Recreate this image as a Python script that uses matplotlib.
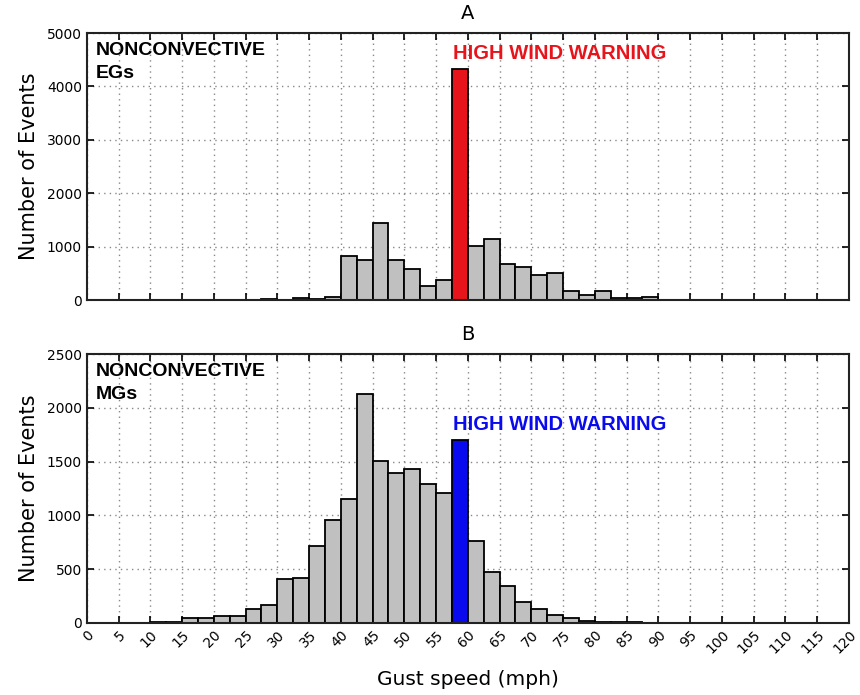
import numpy as np
import matplotlib

matplotlib.use("Agg")

import matplotlib.pyplot as plt

# Bordes izquierdos de las barras (mph), ancho 2.5
bin_left = np.arange(0, 120, 2.5)
bin_width = 2.5

# Panel A: rachas estimadas (EGs)
eg_counts = [
    0, 0, 0, 0, 0, 0, 0, 0, 0, 0,
    5, 15, 5, 50, 25, 60, 837, 750, 1450, 750,
    581, 262, 387, 4325, 1012, 1137, 669, 625, 481, 512,
    169, 106, 175, 50, 50, 56, 12, 10, 8, 8,
    5, 0, 0, 0, 0, 0, 0, 0,
]

# Panel B: rachas medidas (MGs)
mg_counts = [
    0, 0, 0, 0, 12, 12, 46, 43, 65, 65,
    130, 167, 409, 418, 715, 960, 1152, 2127, 1508, 1393,
    1427, 1291, 1211, 1703, 765, 477, 344, 198, 133, 74,
    46, 22, 10, 8, 5, 2, 0, 0, 0, 0,
    0, 0, 0, 0, 0, 0, 0, 0,
]

warning_bin = 23  # barra 57.5-60 mph
x_ticks = np.arange(0, 125, 5)

fig = plt.figure(figsize=(8.6, 6.95), dpi=100)
ax_a = fig.add_axes([0.101, 0.568, 0.886, 0.3845])
ax_b = fig.add_axes([0.101, 0.1036, 0.886, 0.387])


def dibujar(ax, counts, color_aviso, ymax, ystep, etiqueta, titulo, y_aviso):
    colores = ["#c0c0c0"] * len(counts)
    colores[warning_bin] = color_aviso
    ax.bar(bin_left, counts, width=bin_width, align="edge",
           color=colores, edgecolor="black", linewidth=1.3)
    ax.set_xlim(0, 120)
    ax.set_ylim(0, ymax)
    ax.set_yticks(np.arange(0, ymax + 1, ystep))
    ax.set_xticks(x_ticks)
    ax.grid(True, linestyle=(0, (1, 3)), color="#888888", linewidth=1)
    ax.set_axisbelow(True)
    ax.tick_params(direction="in", top=True, right=True, length=5,
                   width=1.2, labelsize=10)
    for s in ax.spines.values():
        s.set_linewidth(1.5)
        s.set_color("#222222")
    ax.set_ylabel("Number of Events", fontsize=15, labelpad=6)
    ax.set_title(titulo, fontsize=14, pad=10)
    ax.text(0.012, 0.965, "NONCONVECTIVE\n" + etiqueta,
            transform=ax.transAxes, fontsize=14, fontweight="bold",
            va="top", ha="left", linespacing=1.45,
            family="Liberation Sans")
    ax.text(57.6, y_aviso, "HIGH WIND WARNING", color=color_aviso,
            fontsize=14.5, fontweight="bold", va="center", ha="left",
            family="Liberation Sans")


dibujar(ax_a, eg_counts, "#e8141c", 5000, 1000, "EGs", "A", 4620)
dibujar(ax_b, mg_counts, "#0a0aee", 2500, 500, "MGs", "B", 1845)

ax_a.tick_params(labelbottom=False)
ax_b.set_xticks(x_ticks)
ax_b.set_xticklabels([str(t) for t in x_ticks], rotation=45,
                     ha="right", rotation_mode="anchor", fontsize=10)
ax_b.set_xlabel("Gust speed (mph)", fontsize=14.5, labelpad=10)

plt.savefig("out.png", dpi=100)
plt.close()
